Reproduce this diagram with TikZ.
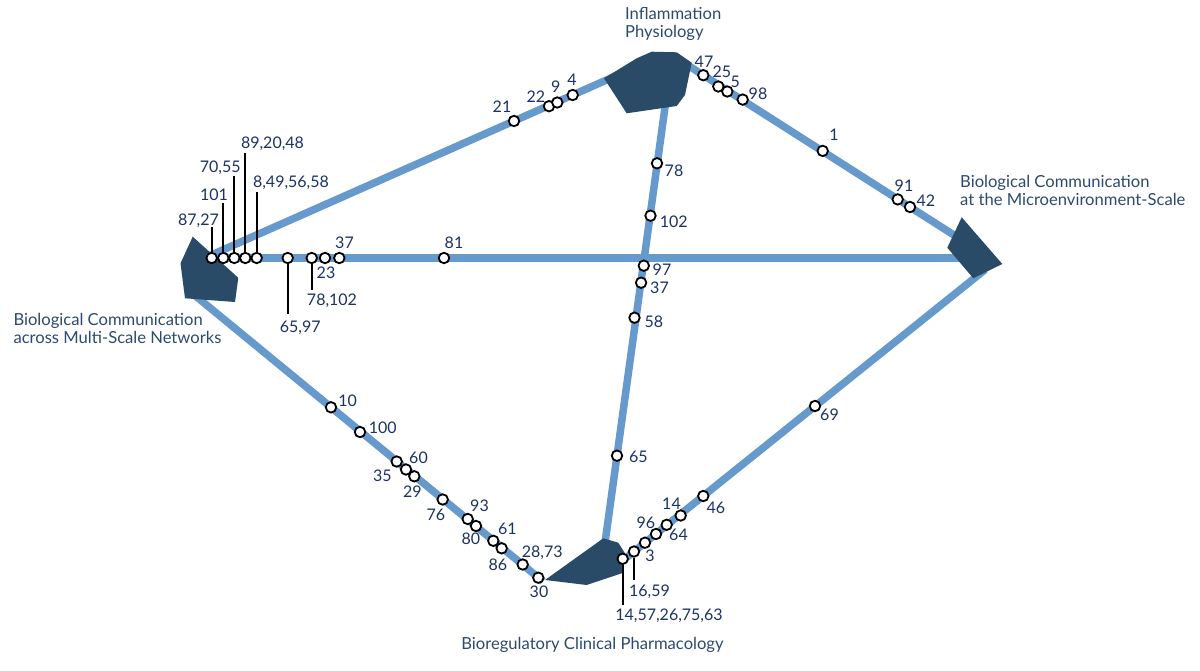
\documentclass[tikz,border=0pt]{standalone}
\usepackage{fontspec}
\setmainfont{Lato}
\definecolor{linkc}{HTML}{6699CC}
\definecolor{hubc}{HTML}{294B68}
\definecolor{numc}{HTML}{1C3166}
\definecolor{titc}{HTML}{2B4A6F}
\begin{document}
\begin{tikzpicture}[x=1pt,y=-1pt,
  link/.style={draw=linkc,line width=7.5pt},
  hub/.style={fill=hubc},
  dot/.style={circle,draw=black,fill=white,line width=1.8pt,minimum size=10.5pt,inner sep=0pt},
  num/.style={text=numc,font=\fontsize{16}{18}\selectfont,inner sep=0pt,anchor=base},
  title/.style={text=titc,font=\fontsize{16.6}{18}\selectfont,inner sep=0pt,align=left},
  tick/.style={draw=black,line width=2pt}]
\useasboundingbox (0,0) rectangle (1200,671);
% ports
\coordinate (Lh) at (212,258);
\coordinate (Lt) at (210,255.6);
\coordinate (Lb) at (190,291.4);
\coordinate (Tl) at (640,65.2);
\coordinate (Tr) at (685,63.5);
\coordinate (Tb) at (666.7,95);
\coordinate (Rt) at (962,240.2);
\coordinate (Rl) at (985,258);
\coordinate (Rb) at (985,269.7);
\coordinate (Bl) at (543,581.4);
\coordinate (Bt) at (604.7,545);
\coordinate (Br) at (612,569.2);
% connectors
\draw[link] (Lt) -- (Tl);
\draw[link] (Lh) -- (Rl);
\draw[link] (Lb) -- (Bl);
\draw[link] (Bt) -- (Tb);
\draw[link] (Tr) -- (Rt);
\draw[link] (Br) -- (Rb);
% hubs
\fill[hub] (192.7,236.7) -- (238.3,277.8) -- (235,302) -- (185,298.3) -- (180.5,263.3) -- cycle;
\fill[hub] (604,78.3) -- (636.7,58.3) -- (651.7,51.7) -- (676.7,52.3) -- (691.7,62.7) -- (685,95) -- (676.7,106) -- (626.7,113.3) -- cycle;
\fill[hub] (545,580) -- (603.3,538.3) -- (618.3,542.7) -- (625,553.3) -- (621.7,573.3) -- (586.7,585) -- cycle;
\fill[hub] (961.7,217.3) -- (1002.3,264) -- (973.3,278.3) -- (947.3,247.7) -- cycle;
% titles (base = baseline of last line)
\node[title,anchor=base west] (tT) at (625,37.5) {Inflammation\\Physiology};
\node[title,anchor=base west] (tR) at (960,205.5) {Biological Communication\\at the Microenvironment-Scale};
\node[title,anchor=base west] (tL) at (13.3,343.8) {Biological Communication\\across Multi-Scale Networks};
\node[title,anchor=base] (tB) at (592.5,649.5) {Bioregulatory Clinical Pharmacology};
% dots L-T
\node[dot] (d21) at (514,121) {};
\node[dot] (d22) at (549,106.2) {};
\node[dot] (d9) at (557.3,102.5) {};
\node[dot] (d4) at (572.7,95) {};
% dots T-R
\node[dot] (d47) at (703.3,75.2) {};
\node[dot] (d25) at (718.3,86.5) {};
\node[dot] (d5) at (727.3,91.5) {};
\node[dot] (d98) at (742.7,99.6) {};
\node[dot] (d1) at (822.7,150.9) {};
\node[dot] (d91) at (897.7,199.4) {};
\node[dot] (d42) at (910,207) {};
% dots L-R
\node[dot] (d8727) at (211.7,258) {};
\node[dot] (d101) at (223.3,258) {};
\node[dot] (d7055) at (234.3,258) {};
\node[dot] (d892048) at (245.3,258) {};
\node[dot] (d8495658) at (256.7,258) {};
\node[dot] (d6597) at (287.7,258) {};
\node[dot] (d78102) at (311.7,258) {};
\node[dot] (d23) at (325,258) {};
\node[dot] (d37a) at (339.3,258) {};
\node[dot] (d81) at (444,258) {};
% dots B-T
\node[dot] (d78) at (657,163.3) {};
\node[dot] (d102) at (650.5,215.7) {};
\node[dot] (d97) at (643.8,265.7) {};
\node[dot] (d37b) at (641.1,282.7) {};
\node[dot] (d58) at (634.5,317.7) {};
\node[dot] (d65) at (617,455.7) {};
% dots L-B
\node[dot] (d10) at (331,407.3) {};
\node[dot] (d100) at (360,432) {};
\node[dot] (d35) at (396.7,461.5) {};
\node[dot] (d60) at (406,469.5) {};
\node[dot] (d29) at (414.3,476.3) {};
\node[dot] (d76) at (442.7,499.5) {};
\node[dot] (d93) at (467.7,519) {};
\node[dot] (d80) at (476,526) {};
\node[dot] (d61) at (493.3,540.8) {};
\node[dot] (d86) at (501.7,548.3) {};
\node[dot] (d2873) at (522.7,564.5) {};
\node[dot] (d30) at (538.3,577.7) {};
% dots B-R
\node[dot] (d1457) at (622.7,558.8) {};
\node[dot] (d1659) at (634,551.5) {};
\node[dot] (d3) at (645,542.7) {};
\node[dot] (d96) at (656,534) {};
\node[dot] (d64) at (666.7,524.8) {};
\node[dot] (d14) at (680.7,515.5) {};
\node[dot] (d46) at (703.3,496) {};
\node[dot] (d69) at (815,406) {};
% tick ends
\coordinate (k8727) at (211.7,227);
\coordinate (k101) at (223.3,203.3);
\coordinate (k7055) at (234.3,176);
\coordinate (k892048) at (245.3,152.7);
\coordinate (k8495658) at (256.7,191.7);
\coordinate (k6597) at (287.7,314);
\coordinate (k78102) at (311.7,290);
\coordinate (k1659) at (634,580);
\coordinate (k1457) at (622.7,605);
\draw[tick] (d8727.north) -- (k8727);
\draw[tick] (d101.north) -- (k101);
\draw[tick] (d7055.north) -- (k7055);
\draw[tick] (d892048.north) -- (k892048);
\draw[tick] (d8495658.north) -- (k8495658);
\draw[tick] (d6597.south) -- (k6597);
\draw[tick] (d78102.south) -- (k78102);
\draw[tick] (d1659.south) -- (k1659);
\draw[tick] (d1457.south) -- (k1457);
% labels L-R
\node[num] (l8727) at (198.5,225.5) {87,27};
\node[num] (l101) at (214,200.5) {101};
\node[num] (l7055) at (220.3,172.8) {70,55};
\node[num] (l892048) at (272.5,148.8) {89,20,48};
\node[num] (l8495658) at (291,187.2) {8,49,56,58};
\node[num] (l6597) at (300.3,332.2) {65,97};
\node[num] (l78102) at (332,305.5) {78,102};
\node[num] (l23) at (326,278.8) {23};
\node[num] (l37a) at (344.5,248.8) {37};
\node[num] (l81) at (454,248.8) {81};
% labels L-T
\node[num] (l21) at (502,112.2) {21};
\node[num] (l22) at (535.8,102.2) {22};
\node[num] (l9) at (555.8,92.8) {9};
\node[num] (l4) at (572,85.5) {4};
% labels T-R
\node[num] (l47) at (704,67.2) {47};
\node[num] (l25) at (721.8,77.2) {25};
\node[num] (l5) at (735.3,87.2) {5};
\node[num] (l98) at (758,99.8) {98};
\node[num] (l1) at (834,140.5) {1};
\node[num] (l91) at (904,191.5) {91};
\node[num] (l42) at (925.8,206.5) {42};
% labels B-T
\node[num] (l78) at (674,176.2) {78};
\node[num] (l102) at (673.7,227.2) {102};
\node[num] (l97) at (662,275.5) {97};
\node[num] (l37b) at (659.5,293.8) {37};
\node[num] (l58) at (653.8,327.2) {58};
\node[num] (l65) at (638.3,462.2) {65};
% labels L-B
\node[num] (l10) at (347.7,406.5) {10};
\node[num] (l100) at (382.7,433.8) {100};
\node[num] (l60) at (418.5,463.8) {60};
\node[num] (l35) at (382.3,481.5) {35};
\node[num] (l29) at (412.3,497.2) {29};
\node[num] (l76) at (435.8,520.5) {76};
\node[num] (l93) at (479.5,511.2) {93};
\node[num] (l80) at (470.8,544.8) {80};
\node[num] (l61) at (507.3,534.8) {61};
\node[num] (l86) at (497.8,570.5) {86};
\node[num] (l2873) at (542.3,557.2) {28,73};
\node[num] (l30) at (539,597.5) {30};
% labels B-R
\node[num] (l3) at (650,561.5) {3};
\node[num] (l96) at (645.8,528.2) {96};
\node[num] (l64) at (678.5,540.5) {64};
\node[num] (l14) at (671.5,509.5) {14};
\node[num] (l46) at (715.8,513.8) {46};
\node[num] (l69) at (829.5,420.5) {69};
\node[num] (l1659) at (649.5,596.5) {16,59};
\node[num] (l1457) at (669,620.5) {14,57,26,75,63};
\end{tikzpicture}
\end{document}
